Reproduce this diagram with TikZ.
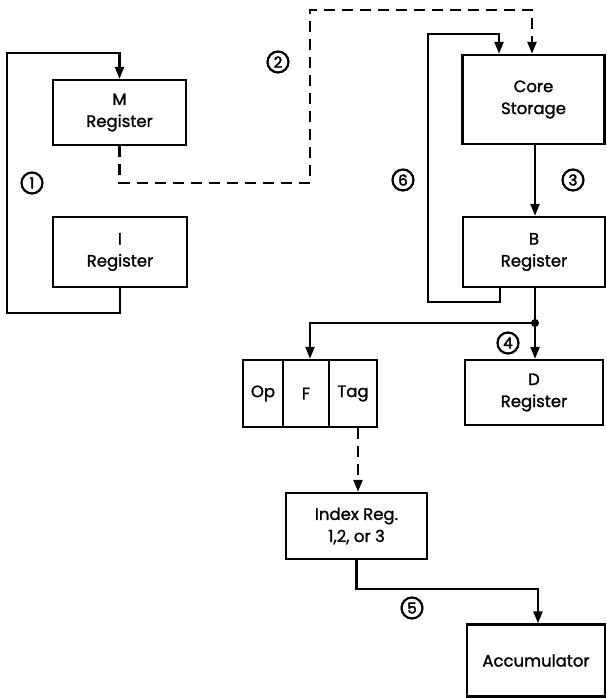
\documentclass[tikz,border=0pt]{standalone}
\usepackage{fontspec}
\setmainfont{Poppins}[FakeBold=1.3]
\newfontfamily\boxfont{Poppins}[FakeBold=1.3]
\newfontfamily\numfont{Poppins}[FakeBold=2.5]
\usetikzlibrary{arrows.meta,calc}
\begin{document}
\begin{tikzpicture}[x=1pt,y=-1pt,
  box/.style={draw,line width=2.4pt,inner sep=0pt,align=center,font=\boxfont\fontsize{16.5}{22}\selectfont},
  conn/.style={line width=2.4pt},
  arr/.style={conn,-{Triangle[length=12pt,width=9pt]}},
  dsh/.style={dash pattern=on 11pt off 7pt},
  num/.style={circle,draw,line width=2.2pt,inner sep=0pt,minimum size=21pt,font=\numfont\fontsize{15}{15}\selectfont}]
\useasboundingbox (0,0) rectangle (606,698);
% boxes
\node[box,minimum width=133pt,minimum height=65pt] (M) at (119.5,112.5) {M\\Register};
\node[box,minimum width=134pt,minimum height=70pt] (I) at (120,252) {I\\Register};
\node[box,minimum width=142pt,minimum height=89pt] (C) at (533.5,99.5) {Core\\Storage};
\node[box,minimum width=142pt,minimum height=70pt] (B) at (534,252) {B\\Register};
\node[box,minimum width=40pt,minimum height=67pt] (Op) at (263,393.5) {Op};
\node[box,minimum width=46pt,minimum height=67pt] (F) at (306,393.5) {F};
\node[box,minimum width=48pt,minimum height=67pt] (Tag) at (353,393.5) {Tag};
\node[box,minimum width=138pt,minimum height=65pt] (D) at (534,392.5) {D\\Register};
\node[box,minimum width=141pt,minimum height=66pt] (X) at (356.5,526) {Index Reg.\\1,2, or 3};
\node[box,minimum width=138pt,minimum height=72pt] (A) at (536,660.5) {Accumulator};
% corner coordinates
\coordinate (c1a) at (7,313);
\coordinate (c1b) at (7,53);
\coordinate (c2a) at (310,183);
\coordinate (c2b) at (310,10);
\coordinate (c6a) at (428,302);
\coordinate (c6b) at (428,34);
\coordinate (dot) at (535,323);
\coordinate (c5) at (538,589);
% loop 1
\draw[arr] (I.south) |- (c1a) -- (c1b) -| (M.north);
% dashed 2
\draw[arr,dsh] (M.south) |- (c2a) -- (c2b) -| ([xshift=-1.5pt]C.north);
% loop 6
\draw[arr] ([xshift=-34pt]B.south) |- (c6a) -- (c6b) -| ([xshift=-34.5pt]C.north);
% 3
\draw[arr] (C.south -| dot) -- (B.north -| dot);
% B to dot, D, F
\draw[conn] (B.south -| dot) -- (dot);
\fill (dot) circle (4pt);
\draw[arr] (dot) -- (D.north -| dot);
\draw[arr] (dot) -| ([xshift=4pt]F.north);
% tag to index
\draw[arr,dsh] ([xshift=5pt]Tag.south) -- ([xshift=1.5pt]X.north);
% index to accumulator
\draw[arr] (X.south) |- (c5) -- (A.north -| c5);
% numbers
\node[num] (n1) at (32,183) {1};
\node[num] (n2) at (278,62) {2};
\node[num] (n3) at (573,180) {3};
\node[num] (n4) at (508,343) {4};
\node[num] (n5) at (412,608) {5};
\node[num] (n6) at (403,180) {6};
\end{tikzpicture}
\end{document}
